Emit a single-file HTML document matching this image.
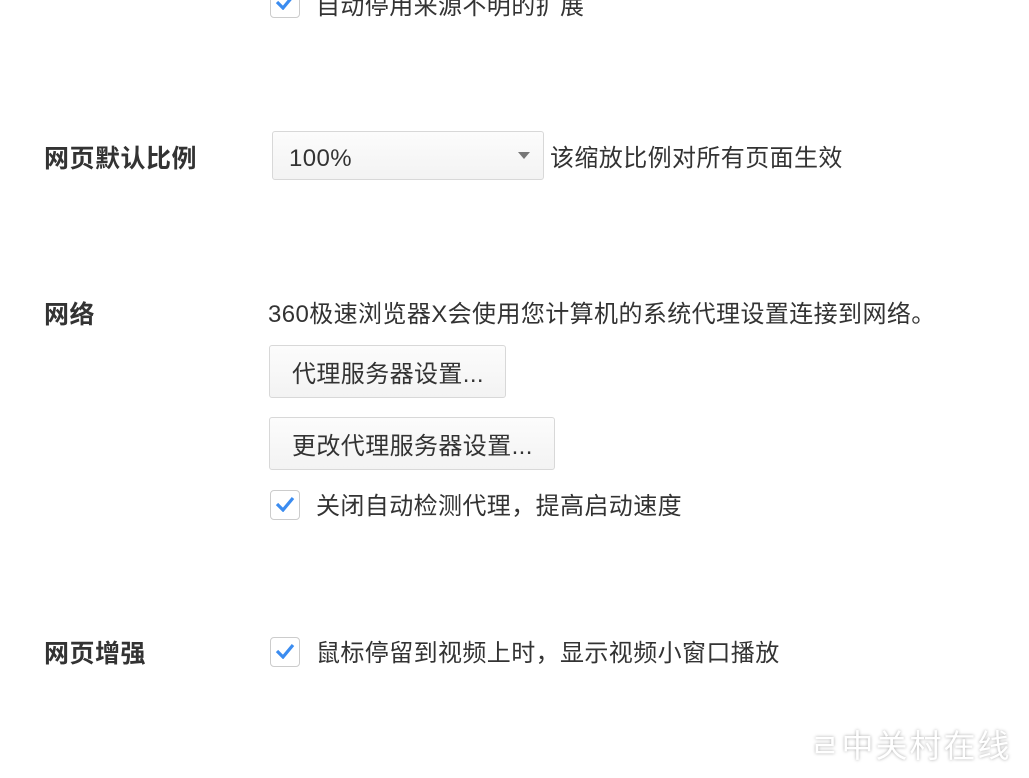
<!DOCTYPE html>
<html><head><meta charset="utf-8"><style>
body{margin:0;width:1029px;height:778px;background:#fff;position:relative;overflow:hidden;font-family:"Liberation Sans","Noto Sans CJK SC",sans-serif;color:#333;}
.a{position:absolute;white-space:nowrap;font-size:24px;line-height:30px;letter-spacing:0.4px;}
.l{font-weight:bold;font-size:25px;color:#333;left:44px;letter-spacing:0.5px;}
.cb{position:absolute;left:270px;width:28px;height:28px;border:1px solid #ccc;border-radius:4px;background:#fff;}
.cb svg{position:absolute;left:4px;top:5px;}
.btn{position:absolute;left:269px;border:1px solid #d8d8d8;border-radius:3px;background:linear-gradient(#fcfcfc,#f3f3f3);font-size:24px;padding-left:22px;box-sizing:border-box;color:#333;letter-spacing:0.4px;}
</style></head><body>
<div class="cb" style="top:-12px"><svg width="20" height="16"><path d="M2 8 L8 14 L18 2" stroke="#3b8cf0" stroke-width="3.2" fill="none"/></svg></div>
<div class="a" style="left:316px;top:-8px">自动停用来源不明的扩展</div>

<div class="a l" style="top:144px">网页默认比例</div>
<div style="position:absolute;left:272px;top:131px;width:272px;height:49px;border:1px solid #d8d8d8;border-radius:3px;background:linear-gradient(#fcfcfc,#f3f3f3);box-sizing:border-box"></div>
<div class="a" style="left:289px;top:144px">100%</div>
<div style="position:absolute;left:518px;top:152px;width:0;height:0;border-left:6px solid transparent;border-right:6px solid transparent;border-top:7px solid #777"></div>
<div class="a" style="left:550px;top:144px">该缩放比例对所有页面生效</div>

<div class="a l" style="top:300px">网络</div>
<div class="a" style="left:268px;top:300px">360极速浏览器X会使用您计算机的系统代理设置连接到网络。</div>
<div class="btn" style="top:345px;width:237px;height:53px;line-height:57px">代理服务器设置...</div>
<div class="btn" style="top:417px;width:286px;height:53px;line-height:57px">更改代理服务器设置...</div>
<div class="cb" style="top:490px"><svg width="20" height="16"><path d="M2 8 L8 14 L18 2" stroke="#3b8cf0" stroke-width="3.2" fill="none"/></svg></div>
<div class="a" style="left:316px;top:492px">关闭自动检测代理，提高启动速度</div>

<div class="a l" style="top:639px">网页增强</div>
<div class="cb" style="top:637px"><svg width="20" height="16"><path d="M2 8 L8 14 L18 2" stroke="#3b8cf0" stroke-width="3.2" fill="none"/></svg></div>
<div class="a" style="left:316px;top:639px">鼠标停留到视频上时，显示视频小窗口播放</div>

<div class="a" style="left:810px;top:727px;font-size:32px;line-height:38px;color:#fff;text-shadow:0 0 3px rgba(0,0,0,.35);letter-spacing:2px">ㄹ中关村在线</div>
</body></html>
